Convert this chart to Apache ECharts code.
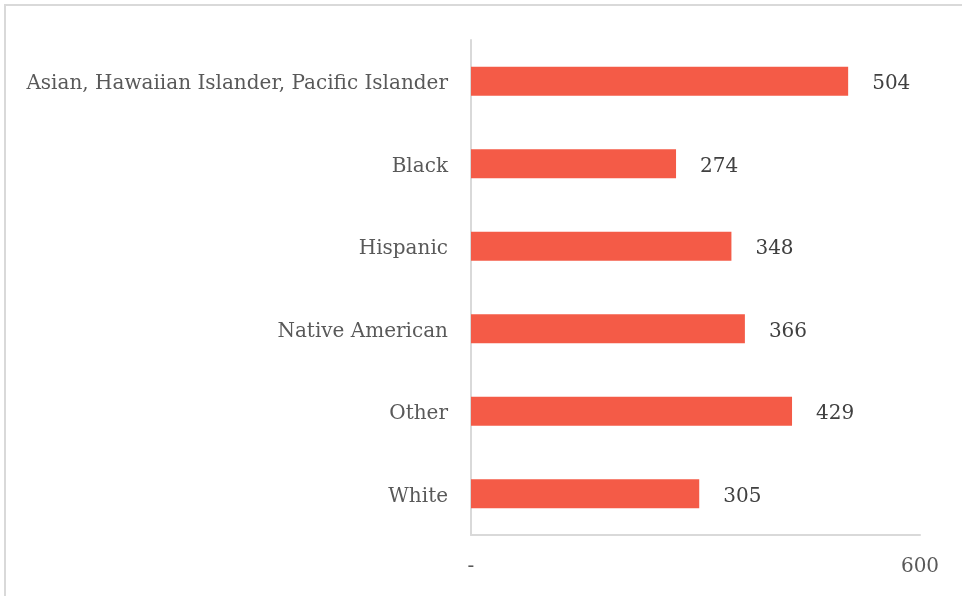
<!DOCTYPE html>
<html><head><meta charset="utf-8">
<script src="https://cdn.jsdelivr.net/npm/echarts@6/dist/echarts.min.js"></script>
<style>html,body{margin:0;padding:0;background:#fff}#c{width:962px;height:596px}</style>
</head><body><div id="c"></div>
<script>
const categories = ["Asian, Hawaiian Islander, Pacific Islander", "Black", "Hispanic", "Native American", "Other", "White"];
const values = [504, 274, 348, 366, 429, 305];
const xTicks = [0, 600];

const chart = echarts.init(document.getElementById('c'), null, {renderer: 'canvas'});
const font = "'DejaVu Serif', serif";
chart.setOption({
  animation: false,
  backgroundColor: '#fff',
  graphic: [{
    type: 'rect', shape: {x: 5, y: 5, width: 1000, height: 1000},
    style: {fill: 'none', stroke: '#d9d9d9', lineWidth: 2}, silent: true
  }],
  grid: {left: 471, right: 42, top: 40, bottom: 61, containLabel: false},
  xAxis: {
    type: 'value', min: xTicks[0], max: xTicks[1], interval: xTicks[1] - xTicks[0],
    axisLine: {show: true, lineStyle: {color: '#d9d9d9', width: 2}},
    axisTick: {show: false},
    splitLine: {show: false},
    axisLabel: {
      margin: 22, color: '#595959', fontFamily: font, fontSize: 20,
      formatter: v => v === 0 ? '-' : String(v)
    }
  },
  yAxis: {
    type: 'category', data: categories, inverse: true,
    axisLine: {show: true, lineStyle: {color: '#d9d9d9', width: 2}},
    axisTick: {show: false},
    axisLabel: {
      margin: 23, formatter: v => '{a|' + v + '}',
      rich: {a: {color: '#595959', fontFamily: font, fontSize: 20, padding: [6, 0, 0, 0]}}
    }
  },
  series: [{
    type: 'bar', data: values, barWidth: 29,
    itemStyle: {color: '#F45B47'},
    label: {show: true, position: 'right', distance: 24, color: '#404040', fontFamily: font, fontSize: 20, offset: [0, 3]}
  }]
});
</script></body></html>
